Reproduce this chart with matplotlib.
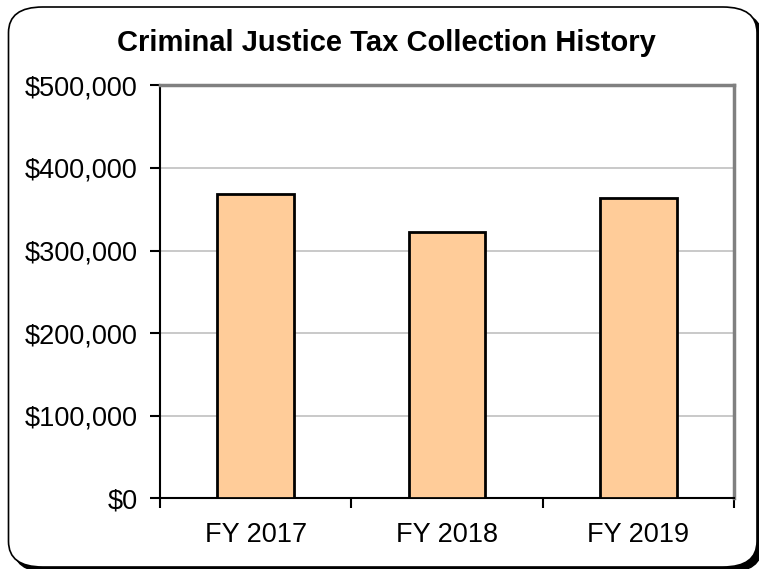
import matplotlib
matplotlib.use("Agg")
import matplotlib.pyplot as plt
from matplotlib.patches import FancyBboxPatch
from matplotlib.ticker import FuncFormatter, FixedLocator

categories = ["FY 2017", "FY 2018", "FY 2019"]
values = [368000, 323000, 364000]
yticks = [0, 100000, 200000, 300000, 400000, 500000]
title = "Criminal Justice Tax Collection History"

plt.rcParams['font.family'] = ['Liberation Sans', 'DejaVu Sans']

W, H = 759, 569
fig = plt.figure(figsize=(W / 100, H / 100), dpi=100)

x0, x1, y0, y1 = 8.5, 757, 7, 567
shadow = FancyBboxPatch(((x0 + 5) / W, 1 - (y1 + 5) / H), (x1 - x0) / W, (y1 - y0) / H,
                        boxstyle="round,pad=0,rounding_size=0.045",
                        transform=fig.transFigure, facecolor="black",
                        edgecolor="black", lw=1, zorder=0)
frame = FancyBboxPatch((x0 / W, 1 - y1 / H), (x1 - x0) / W, (y1 - y0) / H,
                       boxstyle="round,pad=0,rounding_size=0.045",
                       transform=fig.transFigure, facecolor="white",
                       edgecolor="black", lw=1.2, zorder=1)
fig.patches.append(shadow)
fig.patches.append(frame)

ax = fig.add_axes([160 / W, 1 - 498.3 / H, (734 - 160) / W, (498.3 - 85.3) / H])
ax.set_zorder(2)
ax.set_facecolor("white")

x = range(len(categories))
ax.bar(x, values, width=0.40, color="#FFCC99", edgecolor="black", linewidth=2, zorder=3)

ax.set_xlim(-0.5, len(categories) - 0.5)
ax.set_ylim(0, 500000)
ax.set_yticks(yticks)
ax.yaxis.set_major_formatter(FuncFormatter(lambda v, p: "${:,.0f}".format(v)))
ax.grid(axis="y", color="#C0C0C0", linewidth=1.2, zorder=0)

ax.set_xticks(list(x))
ax.set_xticklabels(categories)
ax.xaxis.set_minor_locator(FixedLocator([-0.5, 0.5, 1.5, 2.5]))
ax.tick_params(axis="x", which="major", length=0, pad=17, labelsize=19.5)
ax.tick_params(axis="x", which="minor", length=7, width=1.5, direction="out")
ax.tick_params(axis="y", which="major", length=7, width=1.5, direction="out", pad=9, labelsize=19.5)

for s in ["left", "bottom"]:
    ax.spines[s].set_color("black")
    ax.spines[s].set_linewidth(1.5)
for s in ["top", "right"]:
    ax.spines[s].set_color("#808080")
    ax.spines[s].set_linewidth(2.5)

fig.text(386 / W, 1 - 43 / H, title, ha="center", va="center",
         fontsize=21, fontweight="bold", zorder=3)

fig.savefig("out.png", dpi=100)
